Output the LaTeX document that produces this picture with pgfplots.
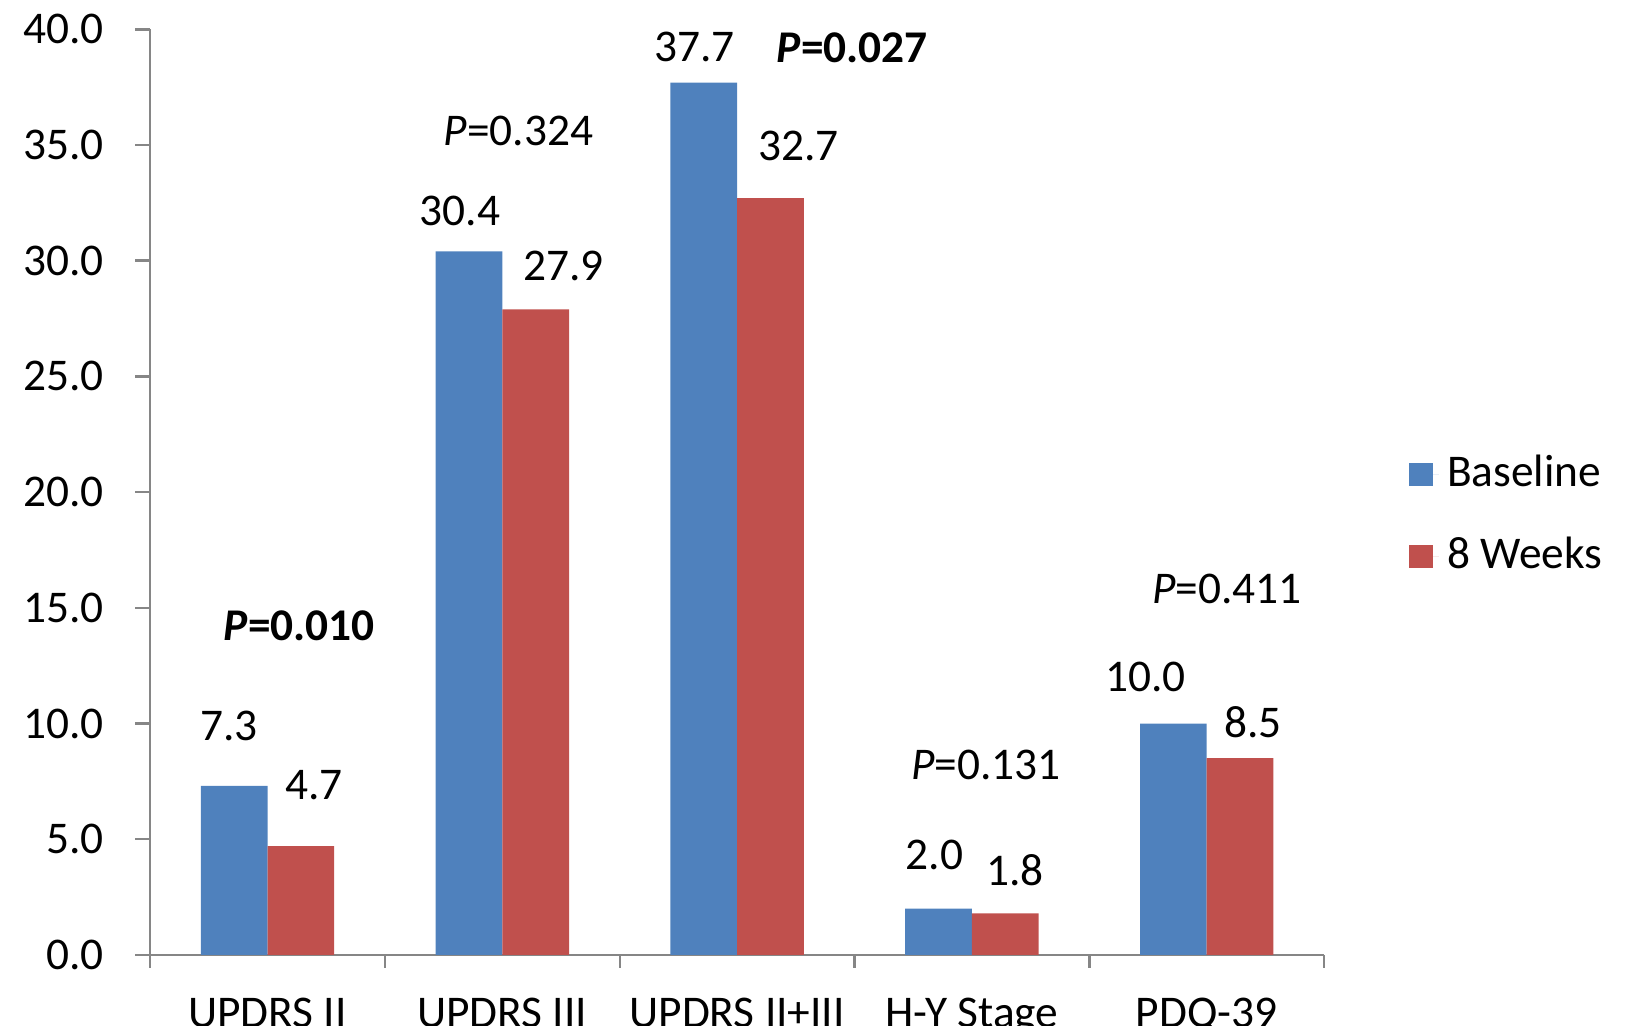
\documentclass[border=0pt]{standalone}
\usepackage{fontspec}
\setmainfont{Carlito}
\usepackage{pgfplots}
\pgfplotsset{compat=1.18}
\definecolor{base}{HTML}{4F81BD}
\definecolor{wk}{HTML}{C0504D}
\definecolor{axgray}{HTML}{868686}

% x, value, label offset (dx, dy in pt)
\pgfplotstableread{
x y dx dy
1 7.3 -1.2 14.6
2 30.4 -2.2 9.7
3 37.7 -2.2 8.5
4 2.0 -1.0 13.1
5 10.0 -6.7 11.3
}\tblbase
\pgfplotstableread{
x y dx dy
1 4.7 3.2 14.9
2 27.9 6.8 10.5
3 32.7 6.8 12.6
4 1.8 2.4 10.5
5 8.5 3.2 8.7
}\tblweeks

\begin{document}
\fontsize{11}{13.2}\selectfont
\begin{tikzpicture}
\begin{axis}[
  scale only axis, width=284.6pt, height=224.4pt,
  xmin=0.5, xmax=5.5, ymin=0, ymax=40,
  ytick={0,5,...,40},
  yticklabel style={xshift=-3.8pt, /pgf/number format/.cd, fixed, fixed zerofill, precision=1},
  xtick={1,...,5},
  xticklabels={UPDRS II, UPDRS III, UPDRS II+III, H-Y Stage, PDQ-39},
  xticklabel style={yshift=-3pt},
  minor xtick={0.5,1.5,...,5.5},
  axis x line*=bottom, axis y line*=left,
  axis line style={axgray, line width=0.6pt},
  tick style={axgray, line width=0.6pt},
  major x tick style={draw=none},
  tick align=outside,
  major tick length=3.6pt, minor tick length=3.1pt,
  ybar=0pt, bar width=0.284,
  clip=false,
  /pgf/number format/assume math mode=true,
  nodes near coords,
  visualization depends on={\thisrow{dx} \as \dx},
  visualization depends on={\thisrow{dy} \as \dy},
  nodes near coords style={anchor=center, xshift=\dx pt, yshift=\dy pt,
    /pgf/number format/.cd, fixed, fixed zerofill, precision=1},
  legend style={at={(1.072,0.475)}, anchor=west, draw=none, fill=none,
    inner sep=0pt, row sep=6.5pt},
  legend cell align=left,
  legend image code/.code={\fill[#1] (0pt,-2.8pt) rectangle (5.6pt,2.8pt);
    \path (0pt,0pt) -- (7.1pt,0pt);},
]
\addplot[fill=base, draw=none] table[x=x, y=y] {\tblbase};
\addplot[fill=wk, draw=none] table[x=x, y=y] {\tblweeks};
\legend{Baseline, 8 Weeks}

\node at (axis cs:1.135,14.22) {\textbf{\textit{P}=0.010}};
\node at (axis cs:2.068,35.61) {\textit{P}=0.324};
\node at (axis cs:3.491,39.22) {\textbf{\textit{P}=0.027}};
\node at (axis cs:4.059,8.23) {\textit{P}=0.131};
\node at (axis cs:5.086,15.82) {\textit{P}=0.411};
\end{axis}
\pgfresetboundingbox
\path (-36.4pt,-17.2pt) rectangle (363.6pt,231.5pt);
\end{tikzpicture}
\end{document}
